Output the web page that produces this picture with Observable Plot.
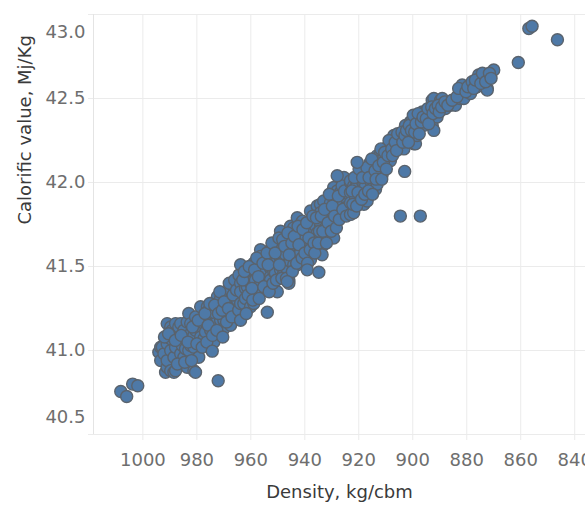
<!DOCTYPE html>
<html><head><meta charset="utf-8">
<script src="https://cdn.jsdelivr.net/npm/d3@7"></script>
<script src="https://cdn.jsdelivr.net/npm/@observablehq/plot@0.6"></script>
<style>html,body{margin:0;padding:0;background:#fff;}</style>
</head><body><div id="chart"></div>
<script>
const xTicks = [1000, 980, 960, 940, 920, 900, 880, 860, 840];
const yTicks = [40.5, 41.0, 41.5, 42.0, 42.5, 43.0];
const yInnerTicks = [41.0, 41.5, 42.0, 42.5];
const yTopLabel = [43.0];
const yBottomLabel = [40.5];
const xDomain = [1018.3, 836];
const yDomain = [40.5, 43.0];
const xTitle = ["Density, kg/cbm"];
const yTitle = ["Calorific value, Mj/Kg"];

// [density, calorific value]
const lowerCluster = [
[994.1,40.99],[993.4,40.94],[993.4,41.02],[992.8,41.02],[992.2,40.98],[991.6,40.87],[991.0,40.90],[991.0,40.94],[991.0,41.04],[991.0,41.16],
[989.7,40.88],[989.7,41.00],[989.7,41.07],[989.7,41.14],[989.1,41.12],[988.5,40.87],[988.5,40.96],[987.9,40.88],[987.9,41.02],[987.9,41.16],
[986.7,41.08],[986.7,41.14],[986.0,41.05],[986.0,41.16],[986.0,40.98],[985.4,41.03],[984.8,40.96],[984.8,41.12],[984.2,41.07],[984.2,41.01],
[983.6,40.90],[983.6,41.17],[983.0,41.00],[983.0,41.22],[982.3,41.10],[982.3,41.16],[982.3,41.03],[981.1,41.02],[981.1,41.09],[981.1,40.88],
[980.5,40.87],[980.5,41.12],[980.5,41.20],[979.3,40.96],[978.6,41.15],[978.6,41.26],[978.6,41.12],[978.6,41.08],[977.4,41.07],[977.4,41.16],
[976.8,41.17],[976.8,41.11],[976.1,41.26],[975.6,41.24],[974.9,41.20],[974.9,41.13],[974.9,41.12],[973.7,41.22],[973.7,41.05],[973.1,41.22],
[973.1,41.16],[972.4,41.32],[971.9,41.28],[971.2,41.25],[971.2,41.31],[971.2,41.18],[970.0,41.34],[970.0,41.18],[970.0,41.13],[969.4,41.27],
[969.4,41.21],[968.7,41.35],[967.5,41.30],[967.5,41.29],[967.5,41.36],[967.5,41.23],[967.5,41.15],[966.3,41.38],[965.7,41.32],[965.7,41.26],
[965.0,41.20],[965.0,41.30],
[992.0,41.08],[990.5,41.10],[988.0,41.06],[987.2,40.92],[985.8,41.09],[984.5,40.93],[983.3,41.05],[982.0,40.94],[981.6,41.14],[980.0,41.04],
[979.5,41.18],[978.0,41.02],[977.0,41.22],[976.3,41.05],[975.8,41.15],[975.2,41.28],[974.2,41.09],[973.4,41.27],[972.6,41.12],[972.0,41.22],
[971.5,41.35],[970.6,41.24],[970.4,41.08],[969.9,41.29],[969.0,41.17],[968.3,41.25],[968.0,41.40],[967.0,41.20],[966.6,41.33],[966.0,41.42],
[965.3,41.36],[964.5,41.24],[964.4,41.45]
];
const midBand = [
[963.8,41.51],[963.8,41.40],[963.8,41.35],[963.8,41.28],[963.8,41.18],[962.6,41.28],[962.0,41.37],[962.0,41.31],[961.3,41.38],[960.1,41.46],
[960.1,41.40],[960.1,41.33],[960.1,41.26],[958.9,41.52],[958.9,41.42],[958.9,41.28],[958.3,41.42],[958.3,41.36],[957.6,41.34],[956.4,41.60],
[956.4,41.56],[956.4,41.50],[956.4,41.45],[956.4,41.36],[956.4,41.40],[955.8,41.46],[954.6,41.47],[954.6,41.41],[952.7,41.60],[952.7,41.49],
[952.7,41.56],[952.7,41.44],[952.7,41.42],[951.5,41.54],[951.5,41.47],[950.9,41.52],[950.9,41.46],[950.2,41.35],[949.0,41.64],[949.0,41.55],
[949.0,41.61],[949.0,41.71],[949.0,41.48],[947.8,41.56],[947.8,41.46],[947.1,41.57],[947.1,41.51],[946.5,41.48],[945.9,41.42],[945.9,41.40],
[945.3,41.67],[945.3,41.60],[945.3,41.74],[945.3,41.53],[944.1,41.73],[944.1,41.51],[943.4,41.62],[943.4,41.56],[942.8,41.79],[942.8,41.51],
[941.6,41.60],[941.6,41.65],[941.6,41.71],[941.6,41.58],[940.9,41.77],[940.4,41.66],[939.7,41.68],[939.7,41.62],[937.9,41.83],[937.9,41.71],
[937.9,41.77],[937.9,41.64],[937.9,41.54],[937.3,41.60],[936.0,41.74],[936.0,41.68],[935.4,41.86],[935.4,41.70],[934.2,41.87],[934.2,41.75],
[934.2,41.76],[934.2,41.82],[933.6,41.62],[933.6,41.57],[933.0,41.67],[933.0,41.89],[932.3,41.79],[932.3,41.73],[931.7,41.81],[931.1,41.67],
[930.5,41.82],[930.5,41.88],[930.5,41.76],[929.3,41.73],[929.3,41.67],[929.3,41.97],[928.6,41.85],[928.6,41.79],[928.6,41.89],[928.0,41.95],
[926.8,41.88],[926.8,41.94],[926.8,41.82],[925.5,42.03],[924.9,41.91],[924.9,41.85],[924.3,41.97],[924.3,41.85],[923.7,41.93],
[963.0,41.42],[962.4,41.47],[961.7,41.22],[961.0,41.33],[960.6,41.50],[959.6,41.37],[959.3,41.30],[958.6,41.48],[957.8,41.55],[957.2,41.44],
[956.9,41.31],[955.5,41.52],[955.2,41.38],[954.0,41.58],[953.6,41.51],[953.2,41.35],[952.2,41.64],[951.8,41.40],[951.0,41.58],[950.5,41.42],
[949.6,41.67],[949.4,41.51],[948.5,41.43],[948.2,41.66],[947.5,41.62],[946.8,41.43],[946.3,41.70],[945.8,41.57],[944.8,41.64],[944.6,41.47],
[943.9,41.68],[943.0,41.52],[942.5,41.74],[942.2,41.63],[941.0,41.55],[940.7,41.72],[940.0,41.58],[939.3,41.76],[939.0,41.52],[938.5,41.67],
[938.0,41.60],[937.0,41.80],[936.6,41.64],[936.3,41.58],[935.7,41.79],[935.0,41.64],[934.6,41.71],[933.9,41.80],[933.3,41.71],[932.7,41.84],
[932.0,41.64],[931.4,41.76],[930.9,41.93],[930.2,41.71],[929.8,41.86],[929.0,41.80],[928.3,41.73],[927.6,41.92],[927.2,41.78],[926.2,41.98],
[925.9,41.84],[925.3,41.95],[924.6,41.80]
];
const upperBand = [
[923.1,41.94],[923.1,42.00],[923.1,41.88],[923.1,42.01],[923.1,41.81],[921.9,41.98],[921.9,41.82],[921.2,41.97],[921.2,41.91],[920.6,41.99],
[919.4,42.02],[919.4,42.06],[919.4,41.95],[918.1,41.99],[918.1,41.87],[918.1,41.95],[917.5,42.05],[917.5,41.98],[916.9,42.06],[916.9,41.89],
[915.7,42.12],[915.7,42.07],[915.7,42.01],[914.4,42.09],[914.4,42.04],[914.4,41.98],[913.8,42.10],[913.8,41.96],[913.2,42.13],[913.2,42.16],
[913.2,41.99],[912.0,42.17],[912.0,42.13],[912.0,42.08],[911.3,42.05],[910.7,42.15],[910.7,42.09],[910.1,42.13],[909.5,42.19],[909.5,42.21],
[908.3,42.22],[908.3,42.18],[908.3,42.13],[907.0,42.27],[907.0,42.28],[905.1,42.21],[904.6,42.26],[904.6,42.23],[904.6,42.21],[903.3,42.20],
[902.7,42.34],[902.1,42.25],[900.9,42.32],[900.9,42.36],[900.9,42.28],[900.2,42.37],[899.6,42.23],[899.0,42.23],[898.4,42.28],[897.1,42.38],
[897.2,42.33],[896.5,42.42],[895.9,42.34],[895.3,42.42],[893.5,42.37],[893.5,42.38],[892.8,42.49],[892.8,42.34],[892.2,42.50],[892.2,42.31],
[891.0,42.39],[889.7,42.49],[889.1,42.50],[888.5,42.44],[887.9,42.44],[886.0,42.46],[884.2,42.47],[884.2,42.46],[882.5,42.50],[881.7,42.58],
[881.1,42.50],[878.6,42.53],[876.2,42.57],[875.6,42.64],[873.6,42.61],[872.4,42.64],[872.4,42.56],[872.4,42.55],[870.0,42.67],
[922.5,41.95],[922.2,41.87],[921.6,42.03],[920.8,41.86],[920.3,41.94],[919.9,42.08],[919.0,41.90],[918.6,42.03],[917.8,41.93],[917.0,42.09],
[916.4,41.95],[916.2,42.03],[915.2,42.14],[914.9,41.93],[914.0,42.07],[913.6,42.02],[912.6,42.10],[911.8,42.20],[911.5,42.02],[910.9,42.12],
[910.4,42.18],[909.8,42.08],[909.2,42.16],[908.8,42.25],[907.8,42.20],[907.5,42.16],[906.5,42.24],[906.0,42.19],[905.6,42.29],[904.0,42.30],
[903.7,42.24],[902.9,42.28],[902.3,42.31],[901.6,42.24],[901.3,42.34],[900.5,42.31],[899.8,42.40],[899.3,42.30],[898.8,42.35],[898.0,42.41],
[897.6,42.29],[896.8,42.36],[896.2,42.39],[895.0,42.38],[894.4,42.44],[894.1,42.35],[893.0,42.45],[892.5,42.41],[891.6,42.44],[890.6,42.46],
[890.2,42.42],[889.3,42.45],[888.1,42.48],[887.0,42.46],[885.4,42.49],[883.6,42.51],[883.0,42.56],[880.3,42.54],[879.6,42.57],[878.0,42.60],
[877.4,42.56],[876.8,42.61],[874.8,42.59],[874.2,42.65],[873.0,42.60],[871.6,42.65],[871.0,42.62]
];
const outliers = [
[1008.2,40.756],[1003.8,40.80],[1001.9,40.79],[1006.0,40.726],
[972.1,40.82],[974.3,40.996],[953.9,41.228],[939.1,41.48],[934.8,41.466],[946.5,41.41],
[904.6,41.80],[897.2,41.80],[903.0,42.066],[920.6,42.12],[928.0,42.04],
[860.9,42.714],[857.0,42.917],[855.8,42.93],[846.4,42.85]
];

const data = [...lowerCluster, ...midBand, ...upperBand, ...outliers]
  .map(([d, v]) => ({density: d, calorific: v}));

const gridColor = "#ebebeb";
const tickText = "#6e6e6e";
const titleText = "#3a3a3a";

const chart = Plot.plot({
  width: 585, height: 509,
  marginLeft: 93, marginRight: 0, marginTop: 14, marginBottom: 75,
  style: {fontFamily: "DejaVu Sans", fontSize: "18px", background: "#fff", overflow: "visible"},
  x: {domain: xDomain, label: null},
  y: {domain: yDomain, label: null},
  marks: [
    Plot.gridX(xTicks, {stroke: gridColor, strokeOpacity: 1}),
    Plot.gridY(yTicks, {stroke: gridColor, strokeOpacity: 1}),
    Plot.ruleX([xDomain[0]], {stroke: "#e4e4e4"}),
    Plot.axisX(xTicks, {tickSize: 6, tickPadding: 13, stroke: gridColor, fill: tickText, fontSize: 18, tickFormat: d => String(d), label: null}),
    Plot.axisY(yTicks, {tickSize: 5, tickPadding: 3, stroke: gridColor, fill: tickText, fontSize: 18,
      tickFormat: d => yInnerTicks.includes(d) ? d.toFixed(1) : "", label: null}),
    Plot.text(yTopLabel, {y: d => d, text: d => d.toFixed(1), frameAnchor: "left", textAnchor: "end", dx: -8, dy: 18, fill: tickText, fontSize: 18}),
    Plot.text(yBottomLabel, {y: d => d, text: d => d.toFixed(1), frameAnchor: "left", textAnchor: "end", dx: -8, dy: -17, fill: tickText, fontSize: 18}),
    Plot.text(xTitle, {frameAnchor: "bottom", text: d => d, dy: 63, fill: titleText, fontSize: 18}),
    Plot.text(yTitle, {frameAnchor: "left", text: d => d, rotate: -90, dx: -68, fill: titleText, fontSize: 18}),
    Plot.dot(data, {x: "density", y: "calorific", r: 6, fill: "#4e79a7", stroke: "#5a636d", strokeWidth: 1.4})
  ]
});
document.getElementById("chart").append(chart);
</script>
</body></html>
